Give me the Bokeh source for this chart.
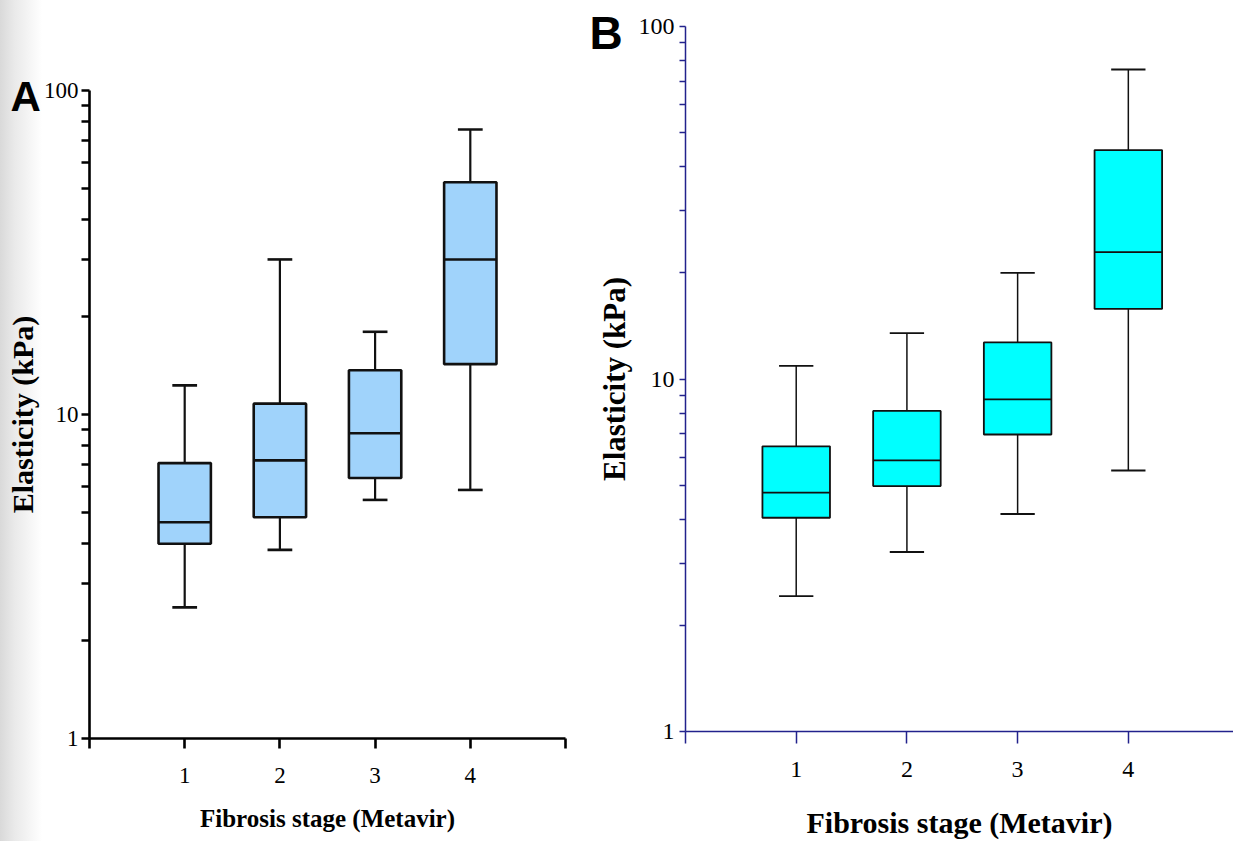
from bokeh.plotting import figure
from bokeh.models import FixedTicker, NumeralTickFormatter, Title, Range1d
from bokeh.embed import file_html
from bokeh.resources import INLINE

# Fibrosis stages (Metavir) on the x axis
stages = [1, 2, 3, 4]

# Panel A: elasticity (kPa) box statistics per stage
a_min = [2.54, 3.82, 5.45, 5.85]
a_q1 = [3.99, 4.82, 6.37, 14.3]
a_med = [4.65, 7.22, 8.75, 30.1]
a_q3 = [7.08, 10.8, 13.7, 52.1]
a_max = [12.3, 30.1, 18.0, 75.8]

# Panel B: elasticity (kPa) box statistics per stage
b_min = [2.42, 3.23, 4.14, 5.5]
b_q1 = [4.04, 4.97, 6.96, 15.8]
b_med = [4.76, 5.88, 8.75, 22.9]
b_q3 = [6.44, 8.12, 12.7, 44.6]
b_max = [10.9, 13.5, 20.0, 75.5]

# log axis ticks
y_major = [1, 10, 100]
y_minor = [k * 10 ** e for e in (0, 1) for k in range(2, 10)]

SERIF = "Liberation Serif"


def box_panel(width, height, borders, x_end, x_ticks, mins, q1, med, q3, maxs,
              fill, box_w, cap_w, line_w, whisk_w, axis_color, axis_w,
              y_tick_len, x_tick_len, tick_font, xlab_font, ylab_font,
              ylab_standoff, ytick_standoff, xtick_standoff, xlab_standoff,
              letter, letter_size, letter_offset, letter_standoff):
    left, right, top, bottom = borders
    p = figure(width=width, height=height, y_axis_type="log",
               x_range=Range1d(0, x_end), y_range=Range1d(1, 100),
               output_backend="svg", toolbar_location=None,
               min_border_left=left, min_border_right=right,
               min_border_top=top, min_border_bottom=bottom)
    p.outline_line_color = None
    p.xgrid.visible = False
    p.ygrid.visible = False
    p.background_fill_color = None
    p.border_fill_color = None

    # whiskers
    p.segment(x0=stages, y0=q3, x1=stages, y1=maxs, line_color="#111111", line_width=whisk_w)
    p.segment(x0=stages, y0=q1, x1=stages, y1=mins, line_color="#111111", line_width=whisk_w)
    # caps
    cl = [s - cap_w / 2 for s in stages]
    cr = [s + cap_w / 2 for s in stages]
    p.segment(x0=cl, y0=maxs, x1=cr, y1=maxs, line_color="#111111", line_width=line_w)
    p.segment(x0=cl, y0=mins, x1=cr, y1=mins, line_color="#111111", line_width=line_w)
    # boxes
    p.vbar(x=stages, width=box_w, bottom=q1, top=q3, fill_color=fill,
           line_color="#111111", line_width=line_w)
    # medians
    bl = [s - box_w / 2 for s in stages]
    br = [s + box_w / 2 for s in stages]
    p.segment(x0=bl, y0=med, x1=br, y1=med, line_color="#111111", line_width=line_w)

    xa = p.xaxis[0]
    xa.ticker = FixedTicker(ticks=x_ticks)
    xa.major_label_overrides = {t: "" for t in x_ticks if t not in stages}
    xa.axis_label = "Fibrosis stage (Metavir)"
    ya = p.yaxis[0]
    ya.ticker = FixedTicker(ticks=y_major, minor_ticks=y_minor)
    ya.formatter = NumeralTickFormatter(format="0")
    ya.axis_label = "Elasticity (kPa)"

    for ax in (xa, ya):
        ax.axis_line_color = axis_color
        ax.axis_line_width = axis_w
        ax.major_tick_line_color = axis_color
        ax.major_tick_line_width = axis_w
        ax.minor_tick_line_color = axis_color
        ax.minor_tick_line_width = axis_w
        ax.major_tick_in = 0
        ax.minor_tick_in = 0
        ax.major_label_text_font = SERIF
        ax.major_label_text_font_size = tick_font
        ax.major_label_text_color = "black"
        ax.axis_label_text_font = SERIF
        ax.axis_label_text_font_style = "bold"
        ax.axis_label_text_color = "black"
    xa.minor_tick_line_color = None
    xa.major_tick_out = x_tick_len
    xa.major_label_text_line_height = 0.8
    xa.axis_label_text_line_height = 0.5
    ya.major_tick_out = y_tick_len
    ya.minor_tick_out = y_tick_len
    xa.axis_label_text_font_size = xlab_font
    ya.axis_label_text_font_size = ylab_font
    ya.axis_label_standoff = ylab_standoff
    ya.major_label_standoff = ytick_standoff
    xa.major_label_standoff = xtick_standoff
    xa.axis_label_standoff = xlab_standoff

    # panel letter, set at the top-left corner of the plot area
    p.add_layout(Title(text=letter, align="left", vertical_align="bottom",
                       offset=letter_offset, standoff=letter_standoff,
                       text_font="Liberation Sans", text_font_style="bold",
                       text_font_size=letter_size, text_color="black"), "above")
    return p


pa = box_panel(585, 841, (89, 20, 90, 103), 5, [0, 1, 2, 3, 4, 5],
               a_min, a_q1, a_med, a_q3, a_max,
               fill="#a0d3fb", box_w=0.55, cap_w=0.26, line_w=2.6, whisk_w=2.2,
               axis_color="black", axis_w=2.6, y_tick_len=8, x_tick_len=10,
               tick_font="23px", xlab_font="25px", ylab_font="30px",
               ylab_standoff=2, ytick_standoff=3, xtick_standoff=19, xlab_standoff=19,
               letter="A", letter_size="42px", letter_offset=-79, letter_standoff=-59)
pa.styles = {"position": "absolute", "left": "0px", "top": "0px",
             "background": "linear-gradient(to right, #d9d9d9 0px, #e9e9e9 14px, #ffffff 42px)"}

pb = box_panel(648, 841, (100, 0, 26, 110), 4.95, [0, 1, 2, 3, 4],
               b_min, b_q1, b_med, b_q3, b_max,
               fill="#00ffff", box_w=0.61, cap_w=0.31, line_w=1.8, whisk_w=1.5,
               axis_color="#22228c", axis_w=1.5, y_tick_len=6, x_tick_len=12,
               tick_font="24px", xlab_font="30px", ylab_font="31px",
               ylab_standoff=4, ytick_standoff=5, xtick_standoff=18, xlab_standoff=26,
               letter="B", letter_size="46px", letter_offset=-96, letter_standoff=-65)
pb.styles = {"position": "absolute", "left": "585px", "top": "0px"}

open("out.html", "w").write(file_html([pa, pb], INLINE))
